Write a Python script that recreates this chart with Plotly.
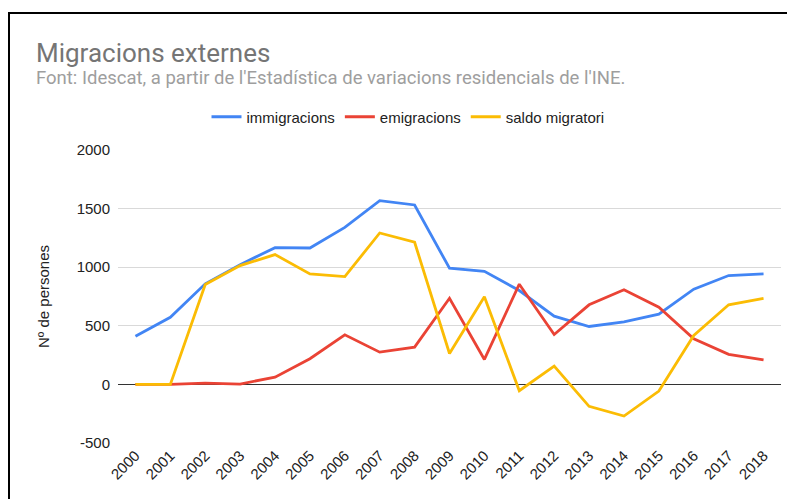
import plotly.graph_objects as go

years = [str(y) for y in range(2000, 2019)]
immigracions = [410, 573, 858, 1022, 1167, 1164, 1340, 1568, 1531, 991, 965, 801, 582, 494, 534, 599, 812, 929, 943]
emigracions = [0, 0, 11, 3, 62, 219, 423, 275, 318, 735, 213, 855, 426, 679, 807, 659, 389, 256, 210]
saldo = [0, 0, 852, 1014, 1108, 943, 920, 1292, 1213, 264, 747, -54, 156, -187, -270, -57, 417, 679, 735]

series_names = ["immigracions", "emigracions", "saldo migratori"]
series_colors = ["#4285F4", "#EA4335", "#FBBC04"]
y_ticks = [-500, 0, 500, 1000, 1500, 2000]
y_tick_labels = ["-500", "0", "500", "1000", "1500", "2000"]

fig = go.Figure()
for name, vals, col in zip(series_names, [immigracions, emigracions, saldo], series_colors):
    fig.add_trace(go.Scatter(x=years, y=vals, name=name, mode="lines",
                             line=dict(color=col, width=2.8)))

# the page body has an 8px margin, so work in reference pixels shifted by 8
OFF = 8
W, H = 795 - OFF, 499 - OFF
L, R, T, B = 118 - OFF, 14, 150 - OFF, 56
pw, ph = W - L - R, H - T - B

def px(x):
    return (x - OFF - L) / pw

def py(y):
    return (H - B - (y - OFF)) / ph

fig.update_layout(
    width=W, height=H,
    margin=dict(l=L, r=R, t=T, b=B),
    paper_bgcolor="white", plot_bgcolor="white",
    font=dict(family="Liberation Sans, Arial, sans-serif", size=15, color="#222"),
    showlegend=True,
    legend=dict(orientation="h", x=px(408), xanchor="center", y=py(117), yanchor="middle",
                font=dict(size=15, color="#222"), itemwidth=30, bgcolor="rgba(0,0,0,0)"),
    xaxis=dict(type="category", tickangle=-45, showgrid=False, zeroline=False,
               showline=False, ticks="", range=[-0.5, 18.5],
               tickfont=dict(size=15, color="#222")),
    yaxis=dict(range=[-500, 2000], tickvals=y_ticks, ticktext=y_tick_labels,
               showgrid=True, gridcolor="#d9d9d9",
               gridwidth=1, zeroline=True, zerolinecolor="#333", zerolinewidth=1.3,
               ticks="", ticklabelstandoff=7, tickfont=dict(size=15, color="#222"),
               title=dict(text="Nº de persones", font=dict(size=15, color="#222"), standoff=23)),
    annotations=[
        dict(text="Migracions externes", xref="paper", yref="paper", x=px(34), y=py(53),
             xanchor="left", yanchor="middle", showarrow=False,
             font=dict(family="Roboto, sans-serif", size=26, color="#757575")),
        dict(text="Font: Idescat, a partir de l'Estadística de variacions residencials de l'INE.",
             xref="paper", yref="paper", x=px(34), y=py(78), xanchor="left", yanchor="middle",
             showarrow=False, font=dict(family="Roboto, sans-serif", size=18.5, color="#9e9e9e")),
    ],
    shapes=[dict(type="rect", xref="paper", yref="paper", x0=px(9), y0=py(540), x1=px(840), y1=py(13),
                 line=dict(color="black", width=2), fillcolor="rgba(0,0,0,0)", layer="above")],
)

fig.write_html("out.html")
